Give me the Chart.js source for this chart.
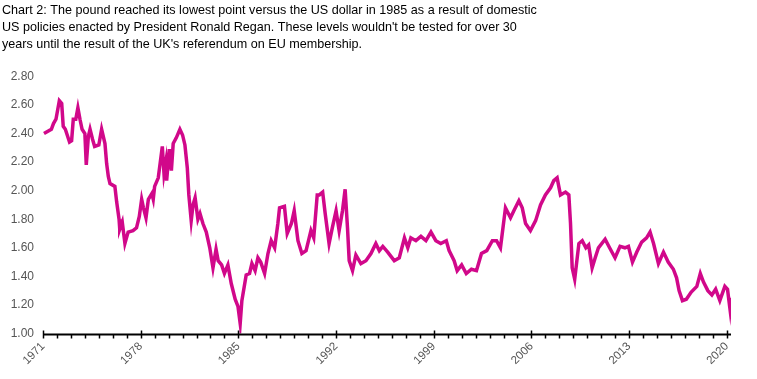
<!DOCTYPE html>
<html>
<head>
<meta charset="utf-8">
<script src="https://cdn.jsdelivr.net/npm/chart.js@4/dist/chart.umd.min.js"></script>
<style>
html,body{margin:0;padding:0;background:#fff;}
#wrap{position:relative;width:757px;height:379px;}
</style>
</head>
<body>
<div id="wrap"><canvas id="c" width="757" height="379"></canvas></div>
<script>
const titleLines = [
  "Chart 2: The pound reached its lowest point versus the US dollar in 1985 as a result of domestic",
  "US policies enacted by President Ronald Regan. These levels wouldn't be tested for over 30",
  "years until the result of the UK's referendum on EU membership."
];
const yearTicks = [1971, 1978, 1985, 1992, 1999, 2006, 2013, 2020];
const yTicks = [1.0, 1.2, 1.4, 1.6, 1.8, 2.0, 2.2, 2.4, 2.6, 2.8];
const dates = [
1971.07,1971.6,1971.75,1971.93,1972.17,1972.34,1972.45,1972.6,1972.9,1973.05,
1973.17,1973.35,1973.5,1973.65,1973.8,1974.0,1974.1,1974.25,1974.37,1974.55,
1974.7,1975.0,1975.2,1975.44,1975.56,1975.68,1975.8,1976.15,1976.28,1976.45,
1976.5,1976.68,1976.87,1977.1,1977.45,1977.7,1977.9,1978.07,1978.2,1978.38,
1978.55,1978.8,1978.9,1979.0,1979.26,1979.55,1979.67,1979.8,1979.86,1980.05,
1980.2,1980.33,1980.55,1980.81,1981.0,1981.17,1981.34,1981.45,1981.62,1981.75,
1981.9,1982.1,1982.25,1982.46,1982.7,1982.95,1983.18,1983.4,1983.55,1983.8,
1984.0,1984.25,1984.49,1984.77,1984.97,1985.13,1985.25,1985.56,1985.8,1985.97,
1986.2,1986.4,1986.6,1986.88,1987.12,1987.35,1987.6,1987.83,1987.95,1988.3,
1988.5,1988.8,1989.0,1989.27,1989.55,1989.85,1990.2,1990.4,1990.65,1990.8,
1991.04,1991.22,1991.5,1991.73,1992.0,1992.22,1992.46,1992.65,1992.82,1992.94,
1993.18,1993.42,1993.78,1994.14,1994.5,1994.85,1995.1,1995.35,1995.7,1996.17,
1996.53,1996.9,1997.14,1997.36,1997.72,1998.08,1998.44,1998.8,1999.15,1999.5,
1999.9,2000.1,2000.46,2000.68,2001.0,2001.33,2001.7,2002.06,2002.42,2002.8,
2003.2,2003.5,2003.78,2004.14,2004.5,2004.74,2005.1,2005.34,2005.58,2005.93,
2006.3,2006.65,2007.0,2007.37,2007.6,2007.84,2008.08,2008.44,2008.68,2008.8,
2008.92,2009.1,2009.4,2009.64,2009.9,2010.1,2010.35,2010.57,2010.8,2011.28,
2011.6,2011.99,2012.35,2012.7,2012.95,2013.24,2013.55,2013.9,2014.25,2014.5,
2014.75,2015.1,2015.46,2015.8,2016.17,2016.4,2016.58,2016.82,2017.1,2017.45,
2017.85,2018.1,2018.33,2018.64,2018.93,2019.2,2019.5,2019.86,2020.05,2020.23,
2020.3
];
const gbpusd = [
2.40,2.43,2.47,2.50,2.63,2.61,2.45,2.43,2.34,2.35,
2.50,2.50,2.58,2.50,2.43,2.40,2.18,2.38,2.43,2.36,
2.31,2.32,2.43,2.33,2.19,2.10,2.05,2.03,1.92,1.80,
1.73,1.78,1.63,1.71,1.72,1.74,1.82,1.94,1.88,1.81,
1.94,1.98,1.94,2.03,2.09,2.31,2.12,2.20,2.07,2.29,
2.14,2.33,2.37,2.43,2.39,2.32,2.16,1.97,1.79,1.90,
1.95,1.80,1.84,1.77,1.71,1.60,1.46,1.59,1.51,1.48,
1.42,1.48,1.35,1.24,1.19,1.07,1.23,1.41,1.42,1.49,
1.44,1.53,1.50,1.42,1.56,1.65,1.60,1.77,1.88,1.89,
1.70,1.77,1.86,1.65,1.56,1.58,1.72,1.67,1.97,1.97,
1.99,1.84,1.63,1.74,1.86,1.72,1.86,2.01,1.74,1.51,
1.44,1.55,1.49,1.51,1.56,1.63,1.58,1.61,1.57,1.51,
1.53,1.67,1.60,1.67,1.65,1.68,1.65,1.71,1.65,1.63,
1.65,1.58,1.51,1.44,1.48,1.42,1.45,1.44,1.56,1.58,
1.65,1.65,1.60,1.88,1.81,1.86,1.93,1.88,1.77,1.72,
1.79,1.90,1.97,2.02,2.07,2.09,1.97,1.99,1.97,1.77,
1.46,1.38,1.63,1.65,1.60,1.62,1.46,1.53,1.60,1.66,
1.60,1.53,1.61,1.60,1.61,1.50,1.57,1.64,1.67,1.71,
1.63,1.49,1.57,1.50,1.45,1.39,1.30,1.23,1.24,1.29,
1.33,1.42,1.36,1.30,1.27,1.31,1.23,1.33,1.31,1.17,
1.25
];

const points = dates.map((d, i) => ({x: d, y: gbpusd[i]}));
const FONT = "'Liberation Sans', Arial, Helvetica, sans-serif";

const axisPlugin = {
  id: 'axisPlugin',
  afterDraw(chart) {
    const xs = chart.scales.x;
    const ca = chart.chartArea;
    const ctx = chart.ctx;
    const y = Math.round(ca.bottom) + 0.5;
    ctx.save();
    ctx.strokeStyle = '#000';
    ctx.lineWidth = 2;
    ctx.beginPath();
    ctx.moveTo(ca.left, y);
    ctx.lineTo(ca.right, y);
    ctx.stroke();
    ctx.lineWidth = 1.5;
    for (let yr = 1971; yr <= 2020; yr++) {
      const px = Math.round(xs.getPixelForValue(yr)) + 0.5;
      const major = yearTicks.includes(yr);
      ctx.beginPath();
      ctx.moveTo(px, major ? y - 4 : y);
      ctx.lineTo(px, y + 4);
      ctx.stroke();
    }
    ctx.restore();
  }
};

new Chart(document.getElementById('c'), {
  type: 'line',
  data: {
    datasets: [{
      data: points,
      borderColor: '#D1088A',
      borderWidth: 3.5,
      pointRadius: 0,
      tension: 0,
      fill: false
    }]
  },
  options: {
    responsive: false,
    animation: false,
    layout: {padding: {left: 2, right: 26, top: 2, bottom: 0}},
    plugins: {
      legend: {display: false},
      tooltip: {enabled: false},
      title: {
        display: true,
        text: titleLines,
        align: 'start',
        color: '#000',
        font: {family: FONT, size: 12.6, weight: 'normal', lineHeight: 1.36},
        padding: {top: 0, bottom: 23}
      }
    },
    scales: {
      x: {
        type: 'linear',
        min: 1971,
        max: 2020.3,
        afterBuildTicks(scale) {
          scale.ticks = yearTicks.map(v => ({value: v}));
        },
        afterFit(scale) { scale.height = 45.5; },
        grid: {display: false, drawTicks: false},
        border: {display: false},
        ticks: {
          autoSkip: false,
          minRotation: 45,
          maxRotation: 45,
          padding: 6,
          color: '#555',
          font: {family: FONT, size: 11.5},
          callback: v => String(v)
        }
      },
      y: {
        min: 1.0,
        max: 2.8,
        afterBuildTicks(scale) {
          scale.ticks = yTicks.map(v => ({value: v}));
        },
        afterFit(scale) { scale.width = 41; },
        grid: {display: false, drawTicks: false},
        border: {display: false},
        ticks: {
          padding: 9,
          color: '#555',
          font: {family: FONT, size: 12},
          callback: v => Number(v).toFixed(2)
        }
      }
    }
  },
  plugins: [axisPlugin]
});
</script>
</body>
</html>
